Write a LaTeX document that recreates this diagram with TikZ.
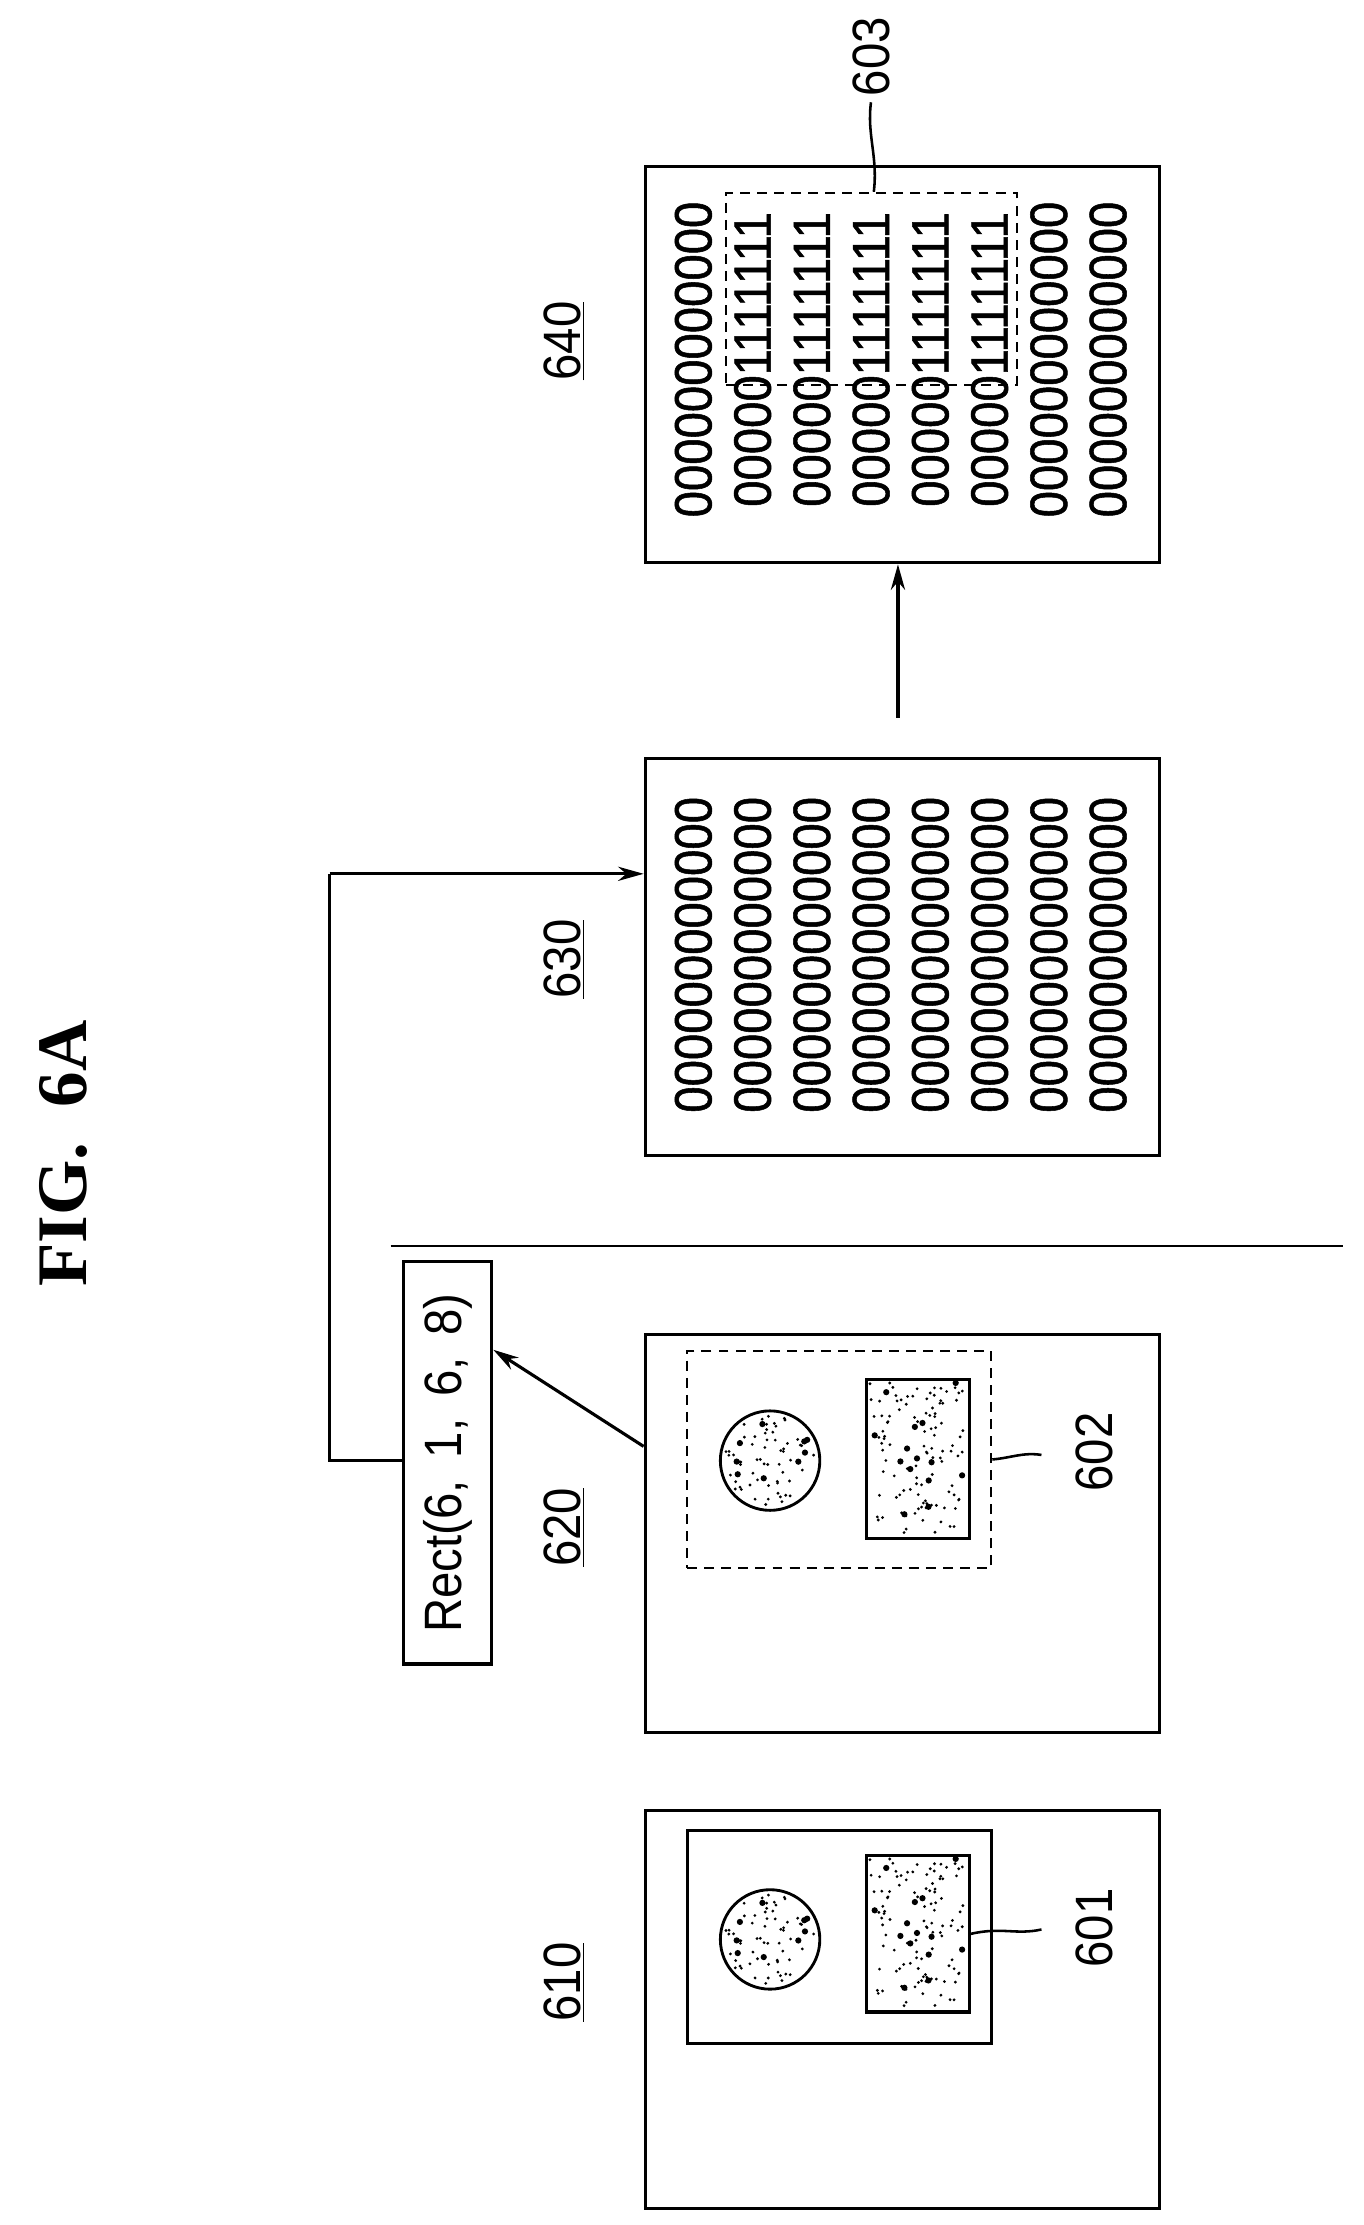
\documentclass[tikz,border=0pt]{standalone}
\usepackage{fontspec}
\setmainfont{Liberation Sans}
\newfontfamily\ttl{Liberation Serif}
\newfontfamily\num{Liberation Sans}[FakeStretch=0.9,FakeBold=1]
\newfontfamily\lab{Liberation Sans}[FakeStretch=0.9]
\usetikzlibrary{arrows.meta}
\begin{document}
\begin{tikzpicture}[x=1pt,y=-1pt,
  box/.style={draw,line width=2.2pt},
  dbox/.style={draw,line width=1.4pt,dash pattern=on 7pt off 5pt},
  grid/.style={rotate=90,font=\num\fontsize{37}{40}\selectfont,inner sep=0pt},
  lbl/.style={rotate=90,font=\lab\fontsize{37}{40}\selectfont,inner sep=1pt},
  arr/.style={line width=2.2pt,-{Stealth[length=18pt,width=10pt]}},
  ln/.style={line width=1.8pt}]
\useasboundingbox (0,0) rectangle (960,1566);
% title
\node[rotate=90,font=\ttl\bfseries\fontsize{50}{52}\selectfont] (title) at (45,812) {FIG.~~6A};
\draw[ln] (275,877) -- (945,877);
\newcommand{\stip}[4]{%
  \pgfmathsetseed{#1}
  \foreach \i in {1,...,110}{\fill ({#1+(rnd-0.5)*#3},{#2+(rnd-0.5)*#4}) circle (1.1pt);}
  \foreach \i in {1,...,14}{\fill ({#1+(rnd-0.5)*#3},{#2+(rnd-0.5)*#4}) circle (2.2pt);}}
\newcommand{\stipc}[3]{%
  \pgfmathsetseed{#1}
  \foreach \i in {1,...,60}{\pgfmathsetmacro\aa{rnd*360}\pgfmathsetmacro\rr{sqrt(rnd)*#3}
    \fill ({#1+\rr*cos(\aa)},{#2+\rr*sin(\aa)}) circle (1.1pt);}
  \foreach \i in {1,...,9}{\pgfmathsetmacro\aa{rnd*360}\pgfmathsetmacro\rr{sqrt(rnd)*#3}
    \fill ({#1+\rr*cos(\aa)},{#2+\rr*sin(\aa)}) circle (2.2pt);}}
% 610
\node[box,minimum width=362pt,minimum height=280pt,anchor=north west] (b610) at (453,1273) {};
\node[box,minimum width=214pt,minimum height=150pt,anchor=north west] (i610) at (483,1287) {};
\node[draw,line width=2pt,circle,minimum size=70pt] (c1) at (542,1365) {};
\stipc{542}{1365}{32}
\node[box,minimum width=72pt,minimum height=110pt,anchor=north west] (r1) at (609,1305) {};
\stip{645}{1360}{66}{104}
\coordinate (e601) at (733,1358);
\draw[ln] (r1.east) .. controls (705,1356) and (715,1362) .. (e601);
\node[lbl] (l601) at (770,1357) {601};
\node[lbl] (l610) at (397,1395) {\underline{610}};
% 620
\node[box,minimum width=362pt,minimum height=280pt,anchor=north west] (b620) at (453,938) {};
\node[dbox,minimum width=214pt,minimum height=153pt,anchor=north west] (i620) at (483,950) {};
\node[draw,line width=2pt,circle,minimum size=70pt] (c2) at (542,1028) {};
\stipc{542}{1028}{32}
\node[box,minimum width=72pt,minimum height=112pt,anchor=north west] (r2) at (609,970) {};
\stip{645}{1026}{66}{106}
\coordinate (e602) at (733,1024);
\draw[ln] (i620.east) .. controls (712,1026) and (720,1022) .. (e602);
\node[lbl] (l602) at (770,1022) {602};
\node[lbl] (l620) at (397,1075) {\underline{620}};
% Rect box
\node[box,minimum width=62pt,minimum height=283pt,anchor=north west] (rect) at (283,887) {};
\node[lbl] at (rect.center) {Rect(6,\, 1,\, 6,\, 8)};
\draw[arr] (453,1018) -- (rect.east |- 0,950);
% 630
\node[box,minimum width=362pt,minimum height=279pt,anchor=north west] (b630) at (453,533) {};
\node[lbl] (l630) at (397,675) {\underline{630}};
\foreach \k in {0,...,7}{\node[grid] at ({488+\k*41.7},672) {000000000000};}
\coordinate (k1) at (232,1028);
\coordinate (k2) at (232,615);
\draw[ln] (rect.west |- 0,1028) -- (k1) -- (k2);
\draw[arr] (k2) -- (b630.west |- 0,615);
% 640
\node[box,minimum width=362pt,minimum height=279pt,anchor=north west] (b640) at (453,116) {};
\node[lbl] (l640) at (397,240) {\underline{640}};
\coordinate (a0) at (632,505);
\draw[arr] (a0) -- (b640.south -| a0);
\foreach \k in {0,...,7}{
  \ifnum\k>0 \ifnum\k<6 \node[grid] at ({488+\k*41.7},253) {000001111111};
  \else \node[grid] at ({488+\k*41.7},253) {000000000000}; \fi
  \else \node[grid] at ({488+\k*41.7},253) {000000000000}; \fi}
\node[dbox,minimum width=205pt,minimum height=135pt,anchor=north west] (i640) at (510,135) {};
\coordinate (e603) at (613,72);
\draw[ln] (615,135) .. controls (618,110) and (610,95) .. (e603);
\node[lbl] (l603) at (613,40) {603};
\end{tikzpicture}
\end{document}
